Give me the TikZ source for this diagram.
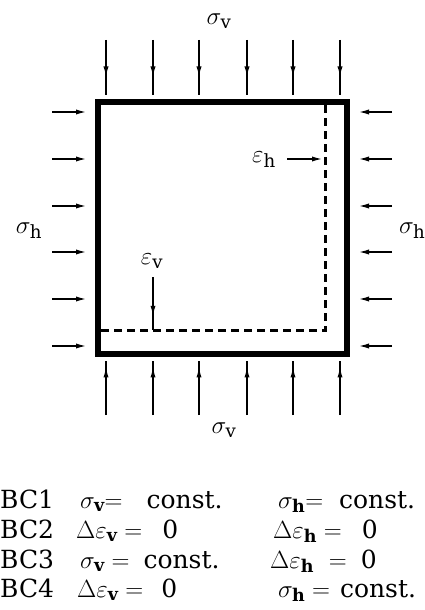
\documentclass[tikz,border=0pt]{standalone}
\usepackage{fontspec}
\setmainfont{DejaVu Serif}
\usetikzlibrary{arrows.meta,decorations.markings}
\begin{document}
\begin{tikzpicture}[x=1pt,y=-1pt,
    label/.style={font=\fontsize{26}{30}\selectfont, inner sep=0pt},
    cell/.style={font=\fontsize{25}{30}\selectfont, inner sep=0pt, anchor=base west},
    load/.style={line width=2pt, -{Latex[length=12pt,width=5pt]}},
    midload/.style={line width=2pt, postaction={decorate},
      decoration={markings, mark=at position #1 with {\arrow{Latex[length=12pt,width=5pt]}}}},
    midload/.default=0.7,
    boundary/.style={line width=3pt, dash pattern=on 8pt off 5pt}]
  \useasboundingbox (0,0) rectangle (424,610);

  % Sample with its rigid walls
  \coordinate (nw) at (97.5,101.5);
  \coordinate (ne) at (346.5,101.5);
  \coordinate (se) at (346.5,353.5);
  \coordinate (sw) at (97.5,353.5);
  \draw[line width=6pt] (nw) -- (ne) -- (se) -- (sw) -- cycle;

  % Deformed boundary (dashed)
  \coordinate (d1) at (325,105);
  \coordinate (d2) at (325,330.5);
  \coordinate (d3) at (100,330.5);
  \draw[boundary] (d1) -- (d2) -- (d3);

  % Vertical loads, top and bottom
  \foreach \i/\x in {1/106,2/153,3/199,4/247,5/293,6/340} {
    \coordinate (ta\i) at (\x,40);
    \coordinate (tb\i) at (\x,95);
    \draw[midload=0.7] (ta\i) -- (tb\i);
    \coordinate (ba\i) at (\x,415);
    \coordinate (bb\i) at (\x,361);
    \draw[midload=0.92] (ba\i) -- (bb\i);
  }

  % Horizontal loads, left and right
  \foreach \i/\y in {1/112,2/159,3/206,4/252,5/299,6/346} {
    \coordinate (la\i) at (52,\y);
    \coordinate (lb\i) at (88,\y);
    \draw[load] (la\i) -- (lb\i);
    \coordinate (ra\i) at (392,\y);
    \coordinate (rb\i) at (357,\y);
    \draw[load] (ra\i) -- (rb\i);
  }

  % Stress labels
  \node[label] (sv1) at (219,21) {$\sigma_\mathrm{v}$};
  \node[label] (sv2) at (224,430) {$\sigma_\mathrm{v}$};
  \node[label] (sh1) at (29,231) {$\sigma_\mathrm{h}$};
  \node[label, anchor=west] (sh2) at (399,231) {$\sigma_\mathrm{h}$};

  % Strain labels
  \node[label] (eh) at (264,160) {$\varepsilon_\mathrm{h}$};
  \coordinate (eha) at (287,159);
  \coordinate (ehb) at (324,159);
  \draw[load] (eha) -- (ehb);
  \node[label] (ev) at (152,261) {$\varepsilon_\mathrm{v}$};
  \coordinate (eva) at (153,277);
  \coordinate (evb) at (153,330);
  \draw[midload=0.77] (eva) -- (evb);

  % Boundary conditions
  \node[cell] (bc1) at (0,508) {BC1};
  \node[cell] (bc2) at (0,538) {BC2};
  \node[cell] (bc3) at (0,568) {BC3};
  \node[cell] (bc4) at (0,597) {BC4};
  \node[cell] (c1a) at (80,508) {$\sigma_\mathbf{v}{=}$\hspace{24pt}const.};
  \node[cell] (c2a) at (76,538) {$\Delta\varepsilon_\mathbf{v} = $\hspace{20pt}0};
  \node[cell] (c3a) at (80,568) {$\sigma_\mathbf{v} =$\hspace{14pt}const.};
  \node[cell] (c4a) at (77,597) {$\Delta\varepsilon_\mathbf{v} = $\hspace{18pt}0};
  \node[cell] (c1b) at (278,508) {$\sigma_\mathbf{h}{=}$\hspace{16pt}const.};
  \node[cell] (c2b) at (273,538) {$\Delta\varepsilon_\mathbf{h} = $\hspace{20pt}0};
  \node[cell] (c3b) at (270,568) {$\Delta\varepsilon_\mathbf{h}\ = $\hspace{14pt}0};
  \node[cell] (c4b) at (278,597) {$\sigma_\mathbf{h} =$\hspace{10pt}const.};
\end{tikzpicture}
\end{document}
